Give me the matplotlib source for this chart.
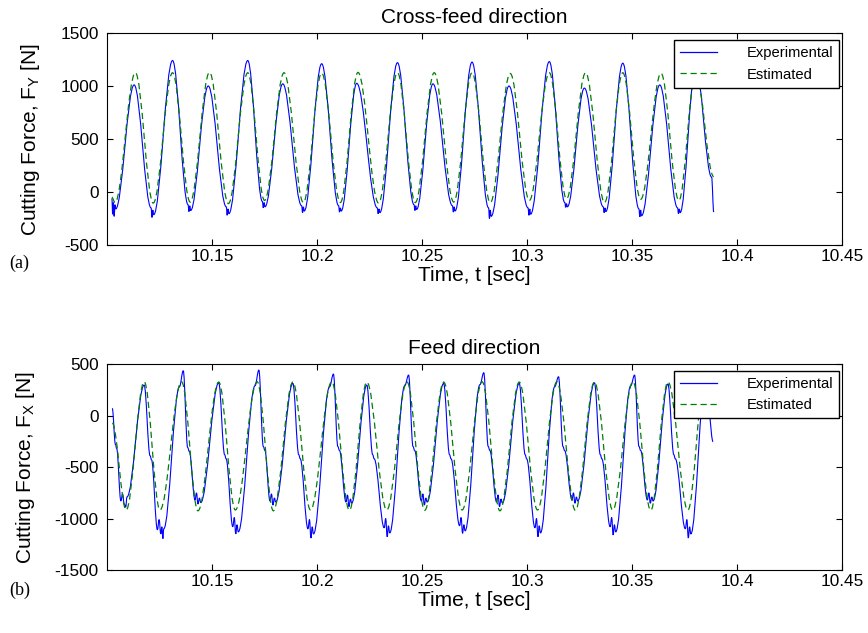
import matplotlib
matplotlib.use("Agg")
import matplotlib.pyplot as plt
from matplotlib.path import Path
from matplotlib.patches import PathPatch
from matplotlib.lines import Line2D

# turning points (time in s, force in N)
top_exp_t = [10.1023, 10.1027, 10.1030, 10.1034, 10.1038, 10.1041, 10.1129,
             10.1210, 10.1214, 10.1218, 10.1222, 10.1312,
             10.1386, 10.1390, 10.1394, 10.1398, 10.1482,
             10.1568, 10.1572, 10.1576, 10.1580, 10.1670,
             10.1740, 10.1744, 10.1748, 10.1752, 10.1837,
             10.1927, 10.1931, 10.1935, 10.1939, 10.2022,
             10.2103, 10.2107, 10.2111, 10.2115, 10.2189,
             10.2287, 10.2291, 10.2295, 10.2299, 10.2383,
             10.2462, 10.2466, 10.2470, 10.2474, 10.2552,
             10.2645, 10.2649, 10.2653, 10.2657, 10.2738,
             10.2817, 10.2821, 10.2825, 10.2829, 10.2914,
             10.3005, 10.3009, 10.3013, 10.3017, 10.3106,
             10.3180, 10.3184, 10.3188, 10.3192, 10.3273,
             10.3363, 10.3367, 10.3371, 10.3375, 10.3456,
             10.3533, 10.3537, 10.3541, 10.3545, 10.3632,
             10.3717, 10.3721, 10.3725, 10.3729, 10.3803,
             10.3879, 10.3889]
top_exp_f = [-60, -210, -100, -230, -120, -160, 1010,
             -150, -240, -170, -215, 1240,
             -120, -185, -130, -175, 1000,
             -140, -220, -160, -205, 1240,
             -90, -150, -100, -140, 1020,
             -130, -195, -140, -180, 1210,
             -130, -190, -150, -180, 1025,
             -150, -205, -160, -195, 1220,
             -120, -175, -130, -165, 1020,
             -130, -190, -140, -180, 1225,
             -150, -250, -170, -230, 1000,
             -150, -220, -160, -210, 1230,
             -100, -145, -110, -140, 980,
             -140, -195, -150, -185, 1215,
             -160, -235, -170, -225, 1010,
             -150, -205, -160, -195, 1190,
             140, -190]

top_est_t = [10.1023, 10.1038, 10.1135, 10.1220, 10.1312, 10.1396, 10.1488,
             10.1578, 10.1670, 10.1750, 10.1843, 10.1935, 10.2022, 10.2111,
             10.2195, 10.2293, 10.2383, 10.2468, 10.2558, 10.2651, 10.2738,
             10.2825, 10.2920, 10.3011, 10.3106, 10.3188, 10.3279, 10.3369,
             10.3456, 10.3541, 10.3638, 10.3723, 10.3803, 10.3889]
top_est_f = [-50, -100, 1125, -105, 1125, -95, 1128, -110, 1125, -80, 1125,
             -100, 1122, -100, 1128, -105, 1125, -100, 1125, -95, 1125, -100,
             1118, -80, 1125, -65, 1125, -100, 1125, -70, 1120, -80, 1125, 145]

bot_exp_t = [10.1025, 10.1040, 10.1046, 10.1066, 10.1074, 10.1082, 10.1089, 10.1095,
             10.1177, 10.1205, 10.1212, 10.1240, 10.1248, 10.1256, 10.1261, 10.1266, 10.1270,
             10.1345, 10.1363, 10.1384, 10.1392, 10.1419, 10.1426, 10.1433, 10.1440, 10.1446,
             10.1532, 10.1560, 10.1567, 10.1599, 10.1606, 10.1613, 10.1619, 10.1625,
             10.1705, 10.1723, 10.1744, 10.1752, 10.1776, 10.1783, 10.1790, 10.1797, 10.1803,
             10.1885, 10.1913, 10.1920, 10.1957, 10.1964, 10.1971, 10.1977, 10.1983,
             10.2060, 10.2078, 10.2099, 10.2107, 10.2138, 10.2145, 10.2152, 10.2159, 10.2165,
             10.2237, 10.2265, 10.2272, 10.2320, 10.2327, 10.2334, 10.2340, 10.2346,
             10.2418, 10.2436, 10.2457, 10.2465, 10.2497, 10.2504, 10.2511, 10.2518, 10.2524,
             10.2603, 10.2631, 10.2638, 10.2679, 10.2686, 10.2693, 10.2699, 10.2705,
             10.2776, 10.2794, 10.2815, 10.2823, 10.2855, 10.2862, 10.2869, 10.2876, 10.2882,
             10.2963, 10.2991, 10.2998, 10.3038, 10.3045, 10.3052, 10.3058, 10.3064,
             10.3132, 10.3150, 10.3171, 10.3179, 10.3214, 10.3221, 10.3228, 10.3235, 10.3241,
             10.3321, 10.3349, 10.3356, 10.3396, 10.3403, 10.3410, 10.3416, 10.3422,
             10.3494, 10.3512, 10.3533, 10.3541, 10.3573, 10.3580, 10.3587, 10.3594, 10.3600,
             10.3671, 10.3699, 10.3706, 10.3754, 10.3761, 10.3768, 10.3774, 10.3780,
             10.3851, 10.3886]
bot_exp_f = [70, -280, -320, -830, -760, -860, -890, -790,
             296, -390, -430, -1110, -1010, -1150, -1080, -1195, -1100,
             280, 435, -310, -350, -820, -750, -860, -800, -845,
             318, -380, -420, -1080, -990, -1150, -1060, -1130,
             290, 442, -300, -340, -830, -760, -870, -800, -840,
             312, -380, -420, -1100, -1010, -1190, -1080, -1150,
             280, 403, -300, -340, -840, -770, -885, -810, -850,
             296, -380, -420, -1090, -1000, -1177, -1070, -1140,
             290, 393, -300, -340, -830, -760, -870, -800, -840,
             312, -380, -420, -1070, -990, -1144, -1060, -1120,
             300, 416, -300, -340, -840, -770, -885, -810, -850,
             312, -380, -420, -1090, -1000, -1177, -1070, -1140,
             280, 377, -300, -340, -820, -750, -852, -790, -830,
             318, -380, -420, -1080, -990, -1160, -1060, -1130,
             290, 393, -300, -340, -820, -750, -852, -790, -830,
             306, -380, -420, -1100, -1010, -1190, -1080, -1150,
             380, -254]

bot_est_t = [10.1025, 10.1091, 10.1177, 10.1252, 10.1355, 10.1433, 10.1532,
             10.1611, 10.1715, 10.1792, 10.1885, 10.1969, 10.2070, 10.2154,
             10.2237, 10.2332, 10.2428, 10.2513, 10.2603, 10.2691, 10.2786,
             10.2871, 10.2963, 10.3050, 10.3142, 10.3230, 10.3321, 10.3408,
             10.3504, 10.3589, 10.3671, 10.3766, 10.3845, 10.3886]
bot_est_f = [-73, -917, 328, -917, 328, -925, 325, -917, 328, -925, 325,
             -917, 328, -920, 325, -917, 328, -920, 325, -917, 328, -925,
             325, -917, 328, -920, 325, -917, 328, -920, 325, -917, 325, 150]

x_ticks = [10.15, 10.2, 10.25, 10.3, 10.35, 10.4, 10.45]
x_tick_labels = ["10.15", "10.2", "10.25", "10.3", "10.35", "10.4", "10.45"]
top_yticks = [-500, 0, 500, 1000, 1500]
bot_yticks = [-1500, -1000, -500, 0, 500]

BLUE = "#0000ff"
GREEN = "#008000"
DASH = (0, (5, 3))

plt.rcParams["font.family"] = ["Liberation Sans", "DejaVu Sans"]
plt.rcParams["mathtext.fontset"] = "custom"
plt.rcParams["mathtext.rm"] = "Liberation Sans"
plt.rcParams["mathtext.it"] = "Liberation Sans:italic"


def smooth_path(ts, fs):
    # cubic segments with flat tangents at every turning point
    verts = [(ts[0], fs[0])]
    codes = [Path.MOVETO]
    for t0, f0, t1, f1 in zip(ts[:-1], fs[:-1], ts[1:], fs[1:]):
        h = 0.363 * (t1 - t0)
        verts += [(t0 + h, f0), (t1 - h, f1), (t1, f1)]
        codes += [Path.CURVE4] * 3
    return Path(verts, codes)


def draw_panel(ax, exp_t, exp_f, est_t, est_f, yticks, title, ylabel):
    ax.add_patch(PathPatch(smooth_path(exp_t, exp_f), fill=False,
                           edgecolor=BLUE, linewidth=0.8, zorder=2))
    ax.add_patch(PathPatch(smooth_path(est_t, est_f), fill=False,
                           edgecolor=GREEN, linewidth=0.9, linestyle=DASH, zorder=3))
    ax.set_xlim(10.1, 10.45)
    ax.set_ylim(yticks[0], yticks[-1])
    ax.set_xticks(x_ticks)
    ax.set_xticklabels(x_tick_labels)
    ax.set_yticks(yticks)
    ax.set_yticklabels([str(v) for v in yticks])
    ax.tick_params(direction="in", top=True, right=True, length=4.5,
                   width=0.8, labelsize=12.4)
    ax.tick_params(axis="x", pad=3)
    ax.tick_params(axis="y", pad=6)
    for spine in ax.spines.values():
        spine.set_linewidth(0.8)
    ax.set_title(title, fontsize=15, pad=7)
    ax.set_xlabel("Time, t [sec]", fontsize=15, labelpad=1)
    ax.set_ylabel(ylabel, fontsize=15, labelpad=13)
    handles = [Line2D([], [], color=BLUE, linewidth=0.9),
               Line2D([], [], color=GREEN, linewidth=0.9, linestyle=DASH)]
    leg = ax.legend(handles, ["Experimental", "Estimated"], loc="upper right",
                    bbox_to_anchor=(0.996, 0.965), borderaxespad=0,
                    fontsize=10.6, handlelength=2.5, handletextpad=2.0,
                    fancybox=False, framealpha=1, edgecolor="black")
    leg.get_frame().set_linewidth(1.0)


fig = plt.figure(figsize=(8.68, 6.33), dpi=100)
ax_top = fig.add_axes([0.1233, 0.6130, 0.8468, 0.3349])
ax_bot = fig.add_axes([0.1233, 0.0995, 0.8468, 0.3254])

draw_panel(ax_top, top_exp_t, top_exp_f, top_est_t, top_est_f, top_yticks,
           "Cross-feed direction", r"Cutting Force, $\mathrm{F_Y}$ [N]")
draw_panel(ax_bot, bot_exp_t, bot_exp_f, bot_est_t, bot_est_f, bot_yticks,
           "Feed direction", r"Cutting Force, $\mathrm{F_X}$ [N]")

fig.text(0.011, 1 - 263 / 633, "(a)", family="Liberation Serif", fontsize=13, va="center")
fig.text(0.011, 1 - 590 / 633, "(b)", family="Liberation Serif", fontsize=13, va="center")

fig.savefig("out.png", dpi=100)
